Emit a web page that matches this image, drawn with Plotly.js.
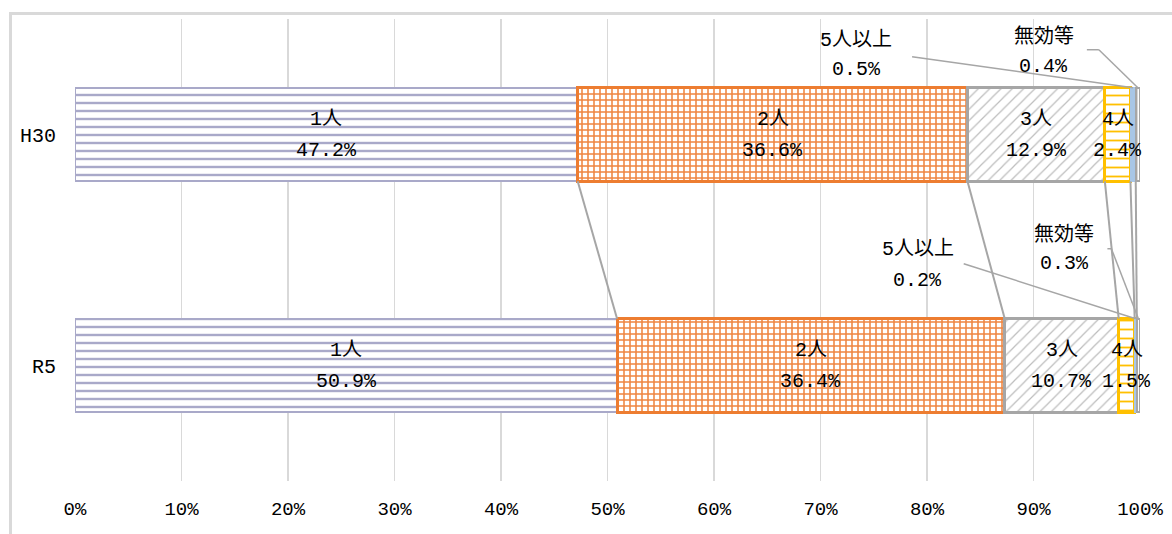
<!DOCTYPE html>
<html><head><meta charset="utf-8">
<script src="https://cdn.plot.ly/plotly-3.0.1.min.js"></script>
<style>
body{margin:0;background:#fff}
#wrap{position:relative;width:1172px;height:534px;overflow:hidden}
#frame{position:absolute;left:9px;top:12px;width:1300px;height:700px;border-left:3px solid #d9d9d9;border-top:3px solid #d9d9d9;pointer-events:none}
</style>
</head><body><div id="wrap"><div id="chart"></div><div id="frame"></div></div>
<script>
const categories = ['H30', 'R5'];
const seriesNames = ['1人', '2人', '3人', '4人', '5人以上', '無効等'];
const valuesH30 = [47.2, 36.6, 12.9, 2.4, 0.5, 0.4];
const valuesR5 = [50.9, 36.4, 10.7, 1.5, 0.2, 0.3];
const xTickValues = [0, 10, 20, 30, 40, 50, 60, 70, 80, 90, 100];
const xTickLabels = ['0%', '10%', '20%', '30%', '40%', '50%', '60%', '70%', '80%', '90%', '100%'];

const FONT = "'Liberation Mono', 'Noto Sans CJK JP', monospace";
const barWidth = 0.405;
const byCat = [valuesH30, valuesR5];

const styles = [
  {line: '#a9a9c9', lw: 2, pattern: {shape: '-', fgcolor: '#a9a9c9', bgcolor: '#ffffff', size: 8, solidity: 0.3}},
  {line: '#ed7d31', lw: 3, pattern: {shape: '+', fgcolor: '#ef8540', bgcolor: '#ffffff', size: 6, solidity: 0.45}},
  {line: '#a6a6a6', lw: 3, pattern: {shape: '/', fgcolor: '#bdbdbd', bgcolor: '#ffffff', size: 8, solidity: 0.15}},
  {line: '#ffc000', lw: 3, pattern: {shape: '-', fgcolor: '#ffc000', bgcolor: '#ffffff', size: 9, solidity: 0.2}},
  {line: '#a8c6e6', lw: 1.5, color: '#a8c6e6'},
  {line: '#a6a6a6', lw: 2, pattern: {shape: '|', fgcolor: '#bbbbbb', bgcolor: '#ffffff', size: 4, solidity: 0.3}}
];

const traces = seriesNames.map((name, i) => {
  const st = styles[i];
  const marker = {color: st.color || '#ffffff', line: {color: st.line, width: st.lw}};
  if (st.pattern) marker.pattern = st.pattern;
  return {
    type: 'bar', orientation: 'h', name: name,
    x: byCat.map(v => v[i]), y: categories,
    width: barWidth, marker: marker, hoverinfo: 'skip'
  };
});

// cumulative positions
const cums = byCat.map(vals => {
  let c = 0; return vals.map(v => (c += v));
});

const annotations = [];
const shapes = [];
const txt = (x, y, text, xs, ys) => annotations.push({
  x: x, y: y, xref: 'x', yref: 'y', text: text, showarrow: false,
  xshift: xs, yshift: ys, font: {family: FONT, size: 20, color: '#000'}
});

// inside labels
byCat.forEach((vals, k) => {
  for (let i = 0; i < 4; i++) {
    const center = cums[k][i] - vals[i] / 2;
    txt(center, k, seriesNames[i], 0, 15);
    txt(center, k, vals[i].toFixed(1) + '%', 0, -16);
  }
});

// outside labels with leader lines (offsets in pixels)
const outside = [
  {4: {dx: -277, n: 48, v: 18, lead: [[-221, 31]]}, 5: {dx: -94, n: 51, v: 21, lead: [[-51, 38], [-39, 38]]}},
  {4: {dx: -218, n: 70, v: 38, lead: [[-172, 55]]}, 5: {dx: -74, n: 84, v: 55, lead: [[-31, 70], [-27, 70]]}}
];
byCat.forEach((vals, k) => {
  [4, 5].forEach(i => {
    const o = outside[k][i];
    const tx = cums[k][i] - vals[i] / 2;
    const ty = k - barWidth / 2;
    txt(tx, ty, seriesNames[i], o.dx, o.n);
    txt(tx, ty, vals[i].toFixed(1) + '%', o.dx, o.v);
    const pts = o.lead.concat([[0, 0]]);
    for (let p = 0; p < pts.length - 1; p++) {
      shapes.push({type: 'line', xref: 'x', yref: 'y', xsizemode: 'pixel', ysizemode: 'pixel',
        xanchor: tx, yanchor: ty, x0: pts[p][0], y0: pts[p][1], x1: pts[p + 1][0], y1: pts[p + 1][1],
        line: {color: '#a6a6a6', width: 1.5}});
    }
  });
});

// series connector lines between the two bars
for (let i = 0; i < seriesNames.length - 1; i++) {
  shapes.push({type: 'line', xref: 'x', yref: 'y',
    x0: cums[0][i], y0: 0 + barWidth / 2, x1: cums[1][i], y1: 1 - barWidth / 2,
    line: {color: '#a6a6a6', width: 2}});
}

const layout = {
  width: 1172, height: 534,
  margin: {l: 75, r: 32, t: 19, b: 53},
  paper_bgcolor: '#ffffff', plot_bgcolor: '#ffffff',
  barmode: 'stack', showlegend: false,
  xaxis: {range: [0, 100], tickvals: xTickValues, ticktext: xTickLabels,
    showgrid: true, gridcolor: '#d9d9d9', gridwidth: 1.5, zeroline: false, showline: false,
    ticks: '', ticklabelstandoff: 14,
    tickfont: {family: FONT, size: 19, color: '#000'}},
  yaxis: {type: 'category', range: [1.5, -0.5], showgrid: false, zeroline: false, showline: false,
    ticks: '', ticklabelstandoff: 18,
    tickfont: {family: FONT, size: 20, color: '#000'}},
  annotations: annotations,
  shapes: shapes
};

Plotly.newPlot('chart', traces, layout, {displayModeBar: false, staticPlot: true});
</script>
</body></html>
